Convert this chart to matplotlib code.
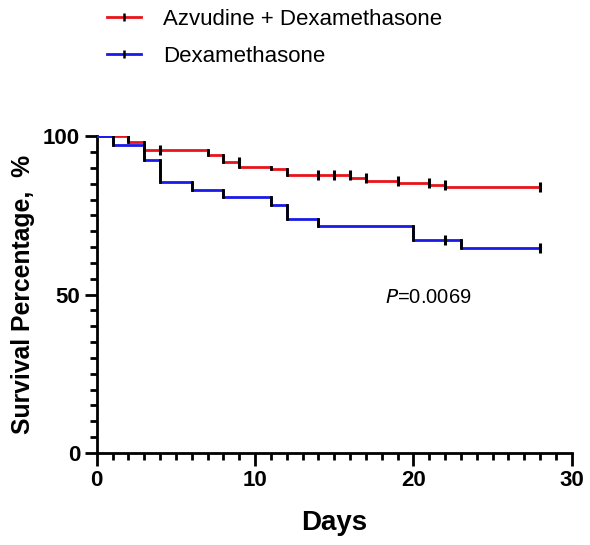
import matplotlib
matplotlib.use("Agg")
import matplotlib.pyplot as plt
from matplotlib.ticker import MultipleLocator
from matplotlib.lines import Line2D
import numpy as np

plt.rcParams['font.family'] = ['Liberation Sans', 'DejaVu Sans']

# Kaplan-Meier step data (time of step, survival after step)
azv_times = [0, 2, 3, 7, 8, 9, 11, 12, 16, 17, 19, 21, 22, 28]
azv_surv = [100, 98.2, 95.6, 94.0, 91.9, 90.3, 89.5, 87.7, 86.8, 86.0, 85.2, 84.6, 84.0, 84.0]
azv_censor_t = [2, 4, 9, 14, 15, 16, 17, 19, 21, 22, 28]

dex_times = [0, 1, 3, 4, 6, 8, 11, 12, 14, 20, 23, 28]
dex_surv = [100, 97.2, 92.4, 85.6, 83.0, 80.7, 78.2, 73.8, 71.5, 67.2, 64.8, 64.8]
dex_censor_t = [22, 28]

labels = ["Azvudine + Dexamethasone", "Dexamethasone"]
colors = ["#e8141b", "#1a1ae6"]

fig = plt.figure(figsize=(5.9, 5.45), dpi=100)
ax = fig.add_axes([0.164, 0.169, 0.805, 0.581])


def surv_at(times, surv, t):
    idx = np.searchsorted(times, t, side='left') - 1
    idx = max(idx, 0)
    return surv[idx]


def draw_km(times, surv, censor_t, color):
    times = np.array(times, float)
    surv = np.array(surv, float)
    ax.step(times, surv, where='post', color=color, lw=2.0, zorder=3)
    # black vertical drops
    for i in range(1, len(times)):
        if surv[i] != surv[i - 1]:
            ax.plot([times[i], times[i]], [surv[i - 1], surv[i]], color='black', lw=2.0, zorder=4)
    cs = [surv_at(times, surv, t) for t in censor_t]
    ax.plot(censor_t, cs, linestyle='none', marker='|', markersize=7, mew=2.2,
            color='black', zorder=5)


draw_km(azv_times, azv_surv, azv_censor_t, colors[0])
draw_km(dex_times, dex_surv, dex_censor_t, colors[1])

ax.set_xlim(0, 30)
ax.set_ylim(0, 100)
ax.xaxis.set_major_locator(MultipleLocator(10))
ax.xaxis.set_minor_locator(MultipleLocator(1))
ax.yaxis.set_major_locator(MultipleLocator(50))
ax.yaxis.set_minor_locator(MultipleLocator(5))
for s in ['top', 'right']:
    ax.spines[s].set_visible(False)
for s in ['left', 'bottom']:
    ax.spines[s].set_linewidth(2.0)
ax.tick_params(which='major', length=9, width=2.0, direction='out', labelsize=16, pad=3)
ax.tick_params(which='minor', length=5, width=2.0, direction='out')
for lbl in ax.get_xticklabels() + ax.get_yticklabels():
    lbl.set_fontweight('bold')
ax.set_xlabel("Days", fontsize=20, fontweight='bold', labelpad=14)
ax.set_ylabel("Survival Percentage,  %", fontsize=17.8, fontweight='bold', labelpad=6)

ax.text(18.2, 49, "$\\it{P}$=0.0069", fontsize=14.5, va='center', ha='left')

handles = [Line2D([0], [0], color=c, lw=2.0, marker='|', markersize=6, mew=1.8,
                  markeredgecolor='black') for c in colors]
fig.legend(handles, labels, loc='upper left', bbox_to_anchor=(0.148, 1.02),
           frameon=False, fontsize=16, handlelength=1.5, handletextpad=1.0,
           labelspacing=0.72)

fig.savefig("out.png", dpi=100)
